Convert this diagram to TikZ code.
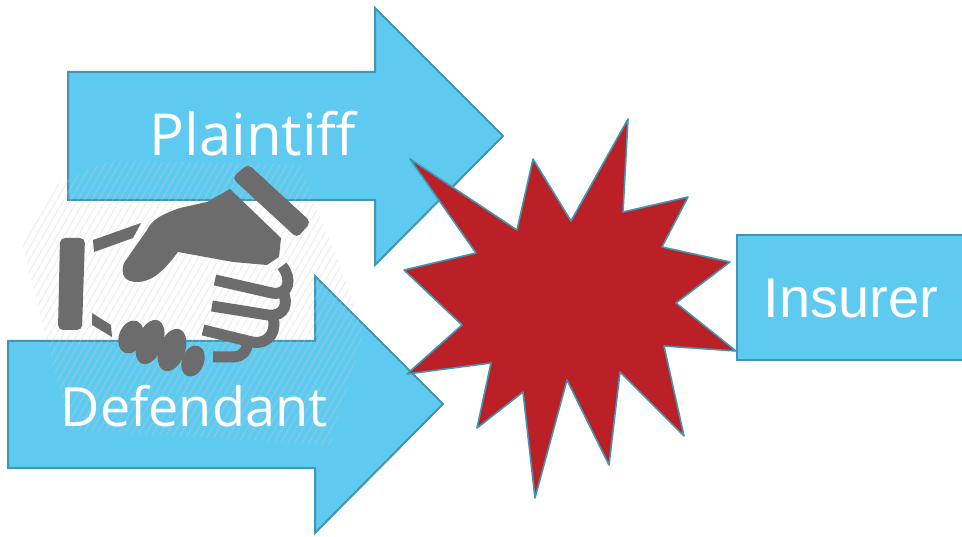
\documentclass[tikz,border=0pt]{standalone}
\usepackage{fontspec}
\setmainfont{Open Sans}
\newfontfamily\insurerfont{Liberation Sans}
\usepackage{xcolor}
\usetikzlibrary{calc}
\definecolor{arrowblue}{RGB}{94, 202, 240}
\definecolor{edgeblue}{RGB}{64, 150, 180}
\definecolor{burstred}{RGB}{186, 32, 37}
\definecolor{handgray}{RGB}{108, 108, 108}

\begin{document}
\begin{tikzpicture}[
  x=1pt, y=-1pt,
  every node/.style={text=white, inner sep=0pt},
  partyarrow/.style={draw=edgeblue, fill=arrowblue, line width=2pt, line join=miter},
  burst/.style={draw=edgeblue, fill=burstred, line width=1.6pt, line join=round},
  handpart/.style={fill=handgray, draw=none},
  fingerbar/.style={draw=handgray, line width=11pt, line cap=butt},
  hatchline/.style={draw=gray!40, line width=1.2pt, opacity=0.3}
]
  \useasboundingbox (0,0) rectangle (962,537);

  % arrows
  \draw[partyarrow] (68,72) -- (375,72) -- (375,8) -- (503,136) -- (375,265) -- (375,200) -- (68,200) -- cycle;
  \draw[partyarrow] (8,341) -- (315,341) -- (315,276) -- (443,404) -- (315,533) -- (315,468) -- (8,468) -- cycle;
  \draw[partyarrow] (737,235) -- (970,235) -- (970,360) -- (737,360) -- cycle;

  % faint hatch behind the hands
  \begin{scope}
    \clip (12,205) -- (110,160) -- (300,165) -- (365,330) -- (330,445) -- (70,430) -- cycle;
    \foreach \i in {0,...,75} {
      \draw[hatchline] (\i*7-100,460) -- (\i*7+90,130);
    }
  \end{scope}

  % burst
  \draw[burst] (410,159) -- (517,230) -- (533,159) -- (571,221) -- (628,119) -- (623,212)
    -- (688,197) -- (662,247) -- (730,262) -- (676,303) -- (736,351) -- (664,346)
    -- (684,436) -- (620,372) -- (609,465) -- (567,380) -- (535,498) -- (523,392)
    -- (477,428) -- (491,363) -- (407,374) -- (462,325) -- (404,270) -- (476,253) -- cycle;

  % hands
  \fill[handpart, rounded corners=5pt] (232,178) -- (248,164) -- (311,222) -- (297,238) -- cycle;
  \fill[handpart, rounded corners=5pt] (60,238) -- (85,238) -- (82,330) -- (58,330) -- cycle;
  \fill[handpart] (230,189) -- (281,238) -- (279,257) -- (267,265) -- (233,262) -- (178,252)
    .. controls (168,265) and (155,282) .. (137,282)
    .. controls (125,282) and (120,275) .. (124,263)
    -- (147,230) .. controls (152,220) and (160,215) .. (180,208) -- (207,202) -- cycle;
  \fill[handpart] (93,240) -- (141,223) -- (133,238) -- (94,252) -- cycle;
  \fill[handpart] (92,313) -- (111,325) -- (112,337) -- (92,325) -- cycle;
  \foreach \fx/\fy/\fw/\fr in {131/337/12/17, 150/342/13/23, 172/350/13/22, 193/361/11/16} {
    \fill[handpart, rotate around={-20:(\fx,\fy)}] (\fx,\fy) ellipse [x radius=\fw, y radius=\fr];
  }
  \draw[fingerbar] (215,280) -- (272,293) .. controls (290,296) and (292,278) .. (282,266);
  \draw[fingerbar] (212,306) -- (268,315) .. controls (286,317) and (288,302) .. (283,292);
  \draw[fingerbar] (203,330) -- (252,342) .. controls (270,345) and (278,330) .. (272,314);
  \draw[fingerbar] (213,357) -- (232,357) .. controls (243,357) and (248,350) .. (247,341);

  % names
  \node[font=\fontsize{58}{60}\selectfont] (plaintiff) at (253,134) {Plaintiff};
  \node[font=\fontsize{54}{56}\selectfont] (defendant) at (194,406) {Defendant};
  \node[font=\insurerfont\fontsize{56}{58}\selectfont] (insurer) at (851,299) {Insurer};
\end{tikzpicture}
\end{document}
